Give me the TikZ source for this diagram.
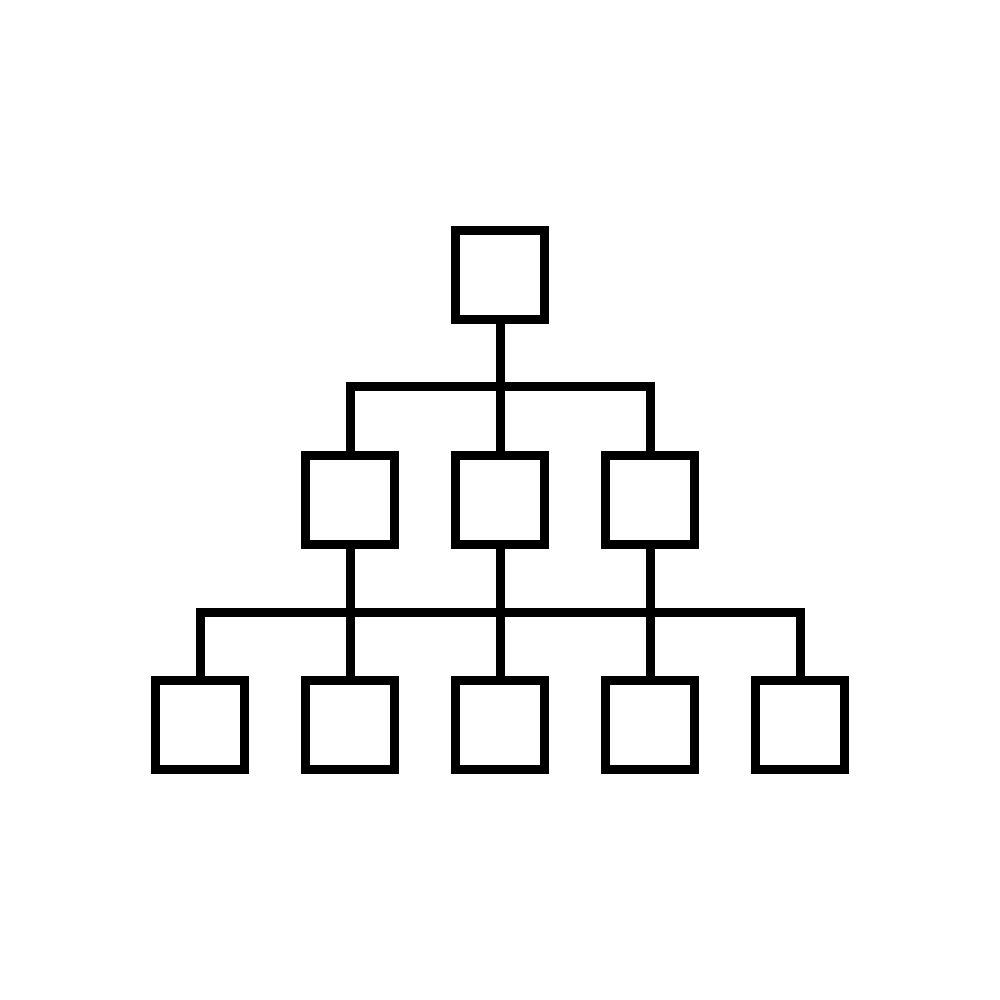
\documentclass[tikz,border=0pt]{standalone}
\usepackage{tikz}

\tikzset{
    boite/.style={draw,rectangle,line width=0.095cm,minimum size=0.89cm,inner sep=0pt},
    lien/.style={line width=0.09cm}
}

\begin{document}
\begin{tikzpicture}
            \useasboundingbox[fill=white] (0,0) rectangle (10,10);
            \newcommand\nbas{5}
            \node[boite] (T) at (5,7.25) {};
            \foreach \x in {1,...,3}{
                \pgfmathsetmacro\posx{3.5+1.5*(\x-1)}
                \node[boite] (M-\x) at (\posx,5) {};
            }
            \foreach \x in {1,...,\nbas}{
                \pgfmathsetmacro\posx{2+1.5*(\x-1)}
                \node[boite] (B-\x) at (\posx,2.75) {};
            }
            \coordinate (J1) at (5,6.13);
            \coordinate (J2) at (5,3.875);
            \draw[lien] (T.south) -- (M-2.north);
            \draw[lien] (M-1.north) |- (J1) -| (M-3.north);
            \draw[lien] (B-1.north) |- (J2) -| (B-\nbas.north);
            \foreach \x [count=\xi from 2] in {1,2,3}{
                \draw[lien] (M-\x.south) -- (B-\xi.north);
            }
        \end{tikzpicture}
\end{document}
